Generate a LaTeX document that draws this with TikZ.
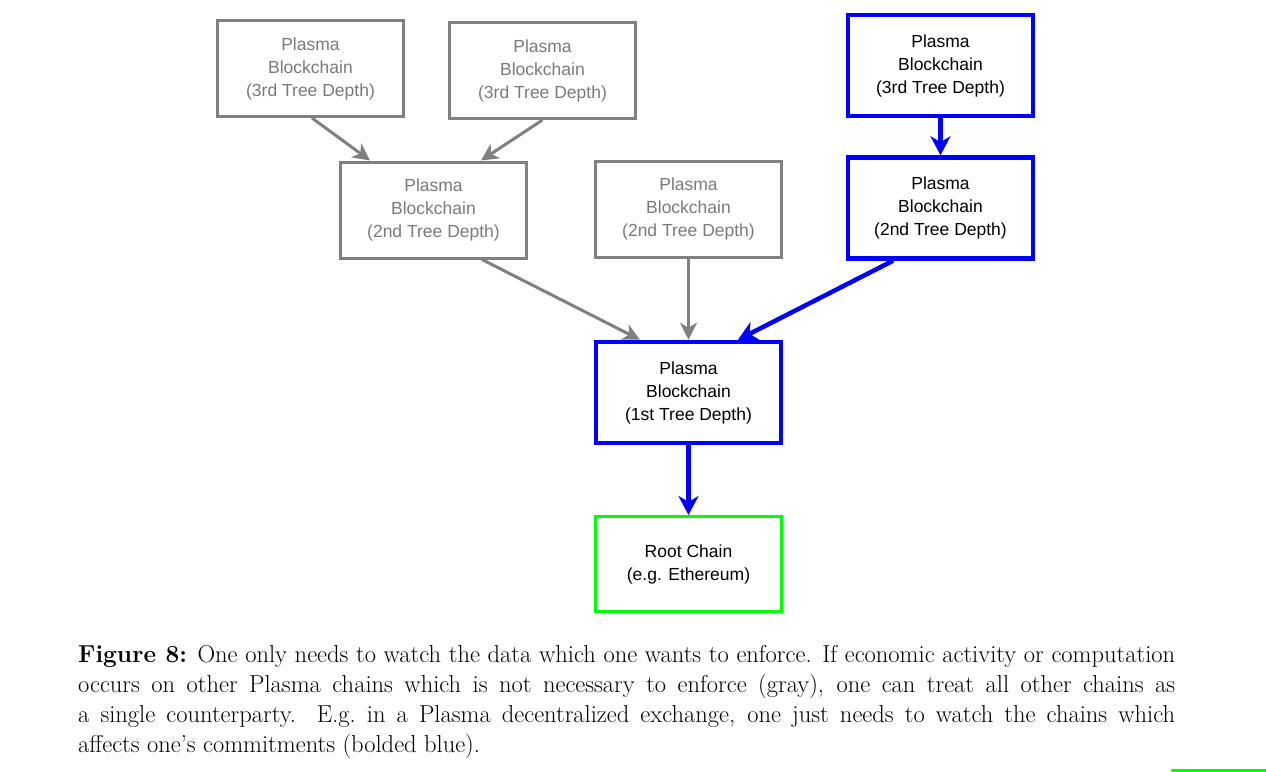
\documentclass[tikz,border=0pt]{standalone}
\usepackage{fontspec}
\setsansfont{Liberation Sans}
\usetikzlibrary{arrows.meta}
\definecolor{grayc}{HTML}{808080}
\definecolor{graytext}{HTML}{7A7A7A}
\definecolor{blueb}{HTML}{0000FF}
\definecolor{greenb}{HTML}{00FF00}
\tikzset{
  chainbox/.style={draw, rectangle, align=center, inner sep=0pt,
    font=\sffamily\fontsize{17.5}{23}\selectfont,
    execute at begin node={\rule{0pt}{16.8pt}}},
  graybox/.style={chainbox, draw=grayc, line width=3pt, text=graytext,
    minimum width=186pt, minimum height=96pt},
  bluebox/.style={chainbox, draw=blueb, line width=4.5pt, text=black,
    minimum width=185pt, minimum height=101pt},
  greenbox/.style={chainbox, draw=greenb, line width=3pt, text=black,
    minimum width=186pt, minimum height=95pt},
  grayarrow/.style={draw=grayc, line width=3pt,
    -{Stealth[length=17pt, width=17pt, inset=5pt]}},
  bluearrow/.style={draw=blueb, line width=4.5pt,
    -{Stealth[length=19pt, width=20pt, inset=6pt]}},
}
\begin{document}
\begin{tikzpicture}[x=1pt, y=-1pt]
\useasboundingbox (0,0) rectangle (1266,771);
% boxes
\node[graybox] (A) at (310.5,68.5) {Plasma\\Blockchain\\(3rd Tree Depth)};
\node[graybox] (B) at (542.5,70.5) {Plasma\\Blockchain\\(3rd Tree Depth)};
\node[bluebox] (C) at (940.5,65.5) {Plasma\\Blockchain\\(3rd Tree Depth)};
\node[graybox] (D) at (433.5,210) {Plasma\\Blockchain\\(2nd Tree Depth)};
\node[graybox] (E) at (688.5,209) {Plasma\\Blockchain\\(2nd Tree Depth)};
\node[bluebox] (F) at (940.5,208) {Plasma\\Blockchain\\(2nd Tree Depth)};
\node[bluebox] (G) at (688.5,392.5) {Plasma\\Blockchain\\(1st Tree Depth)};
\node[greenbox] (H) at (688.5,564) {Root Chain\\(e.g. Ethereum)};
% connectors
\draw[grayarrow] ([xshift=1.5pt]A.south) -- ([xshift=-63.5pt]D.north);
\draw[grayarrow] (B.south) -- ([xshift=47.5pt]D.north);
\draw[bluearrow] (C.south) -- (F.north);
\draw[grayarrow] ([xshift=48.5pt]D.south) -- ([xshift=-48.5pt]G.north);
\draw[grayarrow] (E.south) -- (G.north);
\draw[bluearrow] ([xshift=-47.5pt]F.south) -- ([xshift=49.5pt]G.north);
\draw[bluearrow] (G.south) -- (H.north);
% caption
\node[anchor=base west, inner sep=0pt] (cap) at (78,662) {\parbox[t]{1097pt}{%
  \fontsize{24.5}{30.3}\selectfont
  \textbf{Figure 8:} One only needs to watch the data which one wants to enforce. If economic activity or computation\linebreak
  occurs on other Plasma chains which is not necessary to enforce (gray), one can treat all other chains as\linebreak
  a single counterparty. E.g.\ in a Plasma decentralized exchange, one just needs to watch the chains which\linebreak
  affects one's commitments (bolded blue).}};
% partial green element at bottom right edge
\draw[greenb, line width=3pt, line cap=round] (1172,770) -- (1275,770);
\end{tikzpicture}
\end{document}
